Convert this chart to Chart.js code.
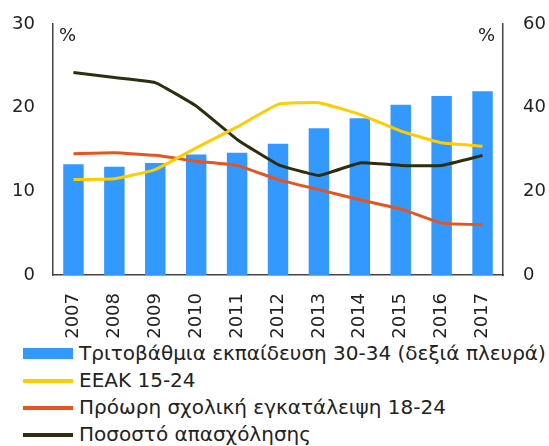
<!DOCTYPE html>
<html>
<head>
<meta charset="utf-8">
<script src="https://cdn.jsdelivr.net/npm/chart.js@4/dist/chart.umd.min.js"></script>
<style>
body { margin: 0; background: #fff; font-family: "DejaVu Sans", sans-serif; }
#wrap { position: relative; width: 549px; height: 340px; }
#legend { margin: 0; padding: 0; list-style: none; position: absolute; left: 23px; top: 340px; }
#legend li { height: 27px; line-height: 27px; font-size: 20px; color: #222; display: flex; align-items: center; white-space: nowrap; }
#legend .mk { width: 50px; margin-right: 6px; }
</style>
</head>
<body>
<div id="wrap"><canvas id="GraphEdu" width="549" height="340"></canvas></div>
<ul id="legend"></ul>
<script>
var years = ['2007','2008','2009','2010','2011','2012','2013','2014','2015','2016','2017'];
var tertiary = [26.5, 25.9, 26.8, 28.8, 29.2, 31.4, 35.1, 37.5, 40.7, 42.8, 43.9];
var neet = [11.4, 11.5, 12.6, 15.2, 17.7, 20.4, 20.6, 19.2, 17.2, 15.8, 15.4];
var earlyLeave = [14.5, 14.6, 14.3, 13.6, 13.1, 11.4, 10.2, 9.0, 7.9, 6.2, 6.0];
var employment = [24.2, 23.6, 23.0, 20.2, 16.2, 13.2, 11.9, 13.4, 13.1, 13.1, 14.3];
var leftTicks = [0, 10, 20, 30];
var rightTicks = [0, 20, 40, 60];

var ctx = document.getElementById("GraphEdu");

// small "%" marks at the top of both axes
var percentMarks = {
    id: 'percentMarks',
    afterDraw: function(chart){
        var c = chart.ctx;
        var a = chart.chartArea;
        c.save();
        c.fillStyle = '#222';
        c.font = '18px "DejaVu Sans"';
        c.textBaseline = 'top';
        c.textAlign = 'left';
        c.fillText('%', a.left + 6, a.top + 3);
        c.textAlign = 'right';
        c.fillText('%', a.right - 8, a.top + 3);
        c.restore();
    }
};

var eduChart = new Chart(ctx, {
    type: 'bar',
    data: {
        labels: years,
        datasets: [
            { type: 'bar', label: 'Τριτοβάθμια εκπαίδευση 30-34 (δεξιά πλευρά)', data: tertiary,
              backgroundColor: '#3399ff', yAxisID: 'y2', order: 1,
              barPercentage: 0.5, categoryPercentage: 1 },
            { type: 'line', label: 'ΕΕΑΚ 15-24', data: neet, borderColor: '#ffcc00',
              borderWidth: 3, pointRadius: 0, tension: 0.1, fill: false, yAxisID: 'y', order: 0 },
            { type: 'line', label: 'Πρόωρη σχολική εγκατάλειψη 18-24', data: earlyLeave, borderColor: '#e8531f',
              borderWidth: 3, pointRadius: 0, tension: 0.1, fill: false, yAxisID: 'y', order: 0 },
            { type: 'line', label: 'Ποσοστό απασχόλησης', data: employment, borderColor: '#2e2e0e',
              borderWidth: 3, pointRadius: 0, tension: 0.1, fill: false, yAxisID: 'y', order: 0 }
        ]
    },
    options: {
        responsive: false,
        animation: false,
        layout: { padding: { top: 24, bottom: 0, left: 0, right: 0 } },
        plugins: { legend: { display: false }, tooltip: { enabled: false } },
        scales: {
            x: {
                grid: { display: false },
                border: { display: true, color: '#444', width: 1.5 },
                ticks: { color: '#222', font: { size: 18, family: 'DejaVu Sans' }, maxRotation: 90, minRotation: 90, padding: 10 },
                afterFit: function(s){ s.height = 65; }
            },
            y: {
                position: 'left', min: 0, max: 30,
                grid: { display: false },
                border: { display: true, color: '#444', width: 1.5 },
                afterBuildTicks: function(s){ s.ticks = leftTicks.map(function(v){ return { value: v }; }); },
                ticks: { color: '#222', font: { size: 18, family: 'DejaVu Sans' }, padding: 10 },
                afterFit: function(s){ s.width = 53; }
            },
            y2: {
                position: 'right', min: 0, max: 60,
                grid: { display: false },
                border: { display: true, color: '#444', width: 1.5 },
                afterBuildTicks: function(s){ s.ticks = rightTicks.map(function(v){ return { value: v }; }); },
                ticks: { color: '#222', font: { size: 18, family: 'DejaVu Sans' }, padding: 12 },
                afterFit: function(s){ s.width = 46; }
            }
        }
    },
    plugins: [percentMarks]
});

// legend, one entry per row
var ul = document.getElementById("legend");
eduChart.data.datasets.forEach(function(ds){
    var li = document.createElement('li');
    var mk = document.createElement('span');
    mk.className = 'mk';
    if(ds.type === 'bar'){
        mk.style.height = '11px';
        mk.style.background = ds.backgroundColor;
    }else {
        mk.style.height = '4px';
        mk.style.background = ds.borderColor;
    }
    li.appendChild(mk);
    li.appendChild(document.createTextNode(ds.label));
    ul.appendChild(li);
});
</script>
</body>
</html>
